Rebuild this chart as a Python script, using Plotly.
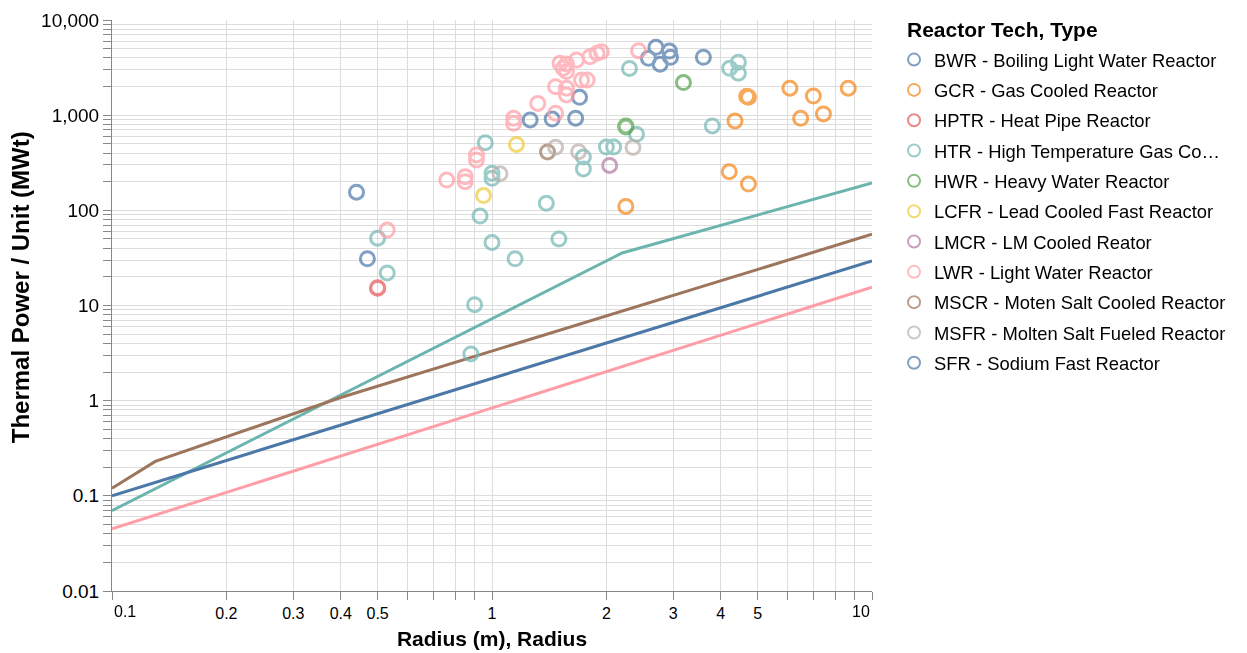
import plotly.graph_objects as go

# ---- scatter data: (radius m, thermal power MWt) per reactor type ----
bwr_r = [1.26, 1.44, 1.66, 1.70, 2.58, 2.70, 2.77, 2.93, 2.95, 3.60]
bwr_p = [890, 910, 930, 1540, 3960, 5170, 3430, 4720, 4060, 4060]

gcr_r = [2.25, 4.21, 4.73, 4.36, 4.71, 4.73, 4.68, 6.08, 6.49, 7.01, 7.45, 8.66]
gcr_p = [110, 255, 189, 870, 1560, 1540, 1580, 1920, 927, 1590, 1030, 1920]

hptr_r = [0.50, 0.50]
hptr_p = [15.4, 15.2]

htr_r = [0.50, 0.53, 0.90, 0.88, 0.93, 0.96, 1.00, 1.00, 1.00, 1.15, 1.39, 1.50,
         1.74, 1.74, 2.00, 2.09, 2.30, 2.40, 3.80, 4.22, 4.45, 4.45]
htr_p = [51, 22, 10.2, 3.1, 87, 514, 245, 217, 46, 31, 119, 50,
         364, 272, 463, 463, 3100, 630, 770, 3110, 3600, 2760]

hwr_r = [2.25, 2.25, 3.19]
hwr_p = [770, 750, 2200]

lcfr_r = [1.16, 0.95]
lcfr_p = [492, 143]

lmcr_r = [2.04]
lmcr_p = [296]

lwr_r = [0.53, 0.76, 0.85, 0.85, 0.91, 0.91, 1.14, 1.14, 1.32, 1.47, 1.47,
         1.51, 1.57, 1.54, 1.57, 1.57, 1.57, 1.67, 1.72, 1.78, 1.81, 1.89, 1.94, 2.43]
lwr_p = [62, 208, 226, 200, 382, 338, 927, 822, 1330, 1990, 1050,
         3510, 3450, 3110, 2870, 1920, 1630, 3800, 2340, 2340, 4120, 4470, 4650, 4760]

mscr_r = [1.40]
mscr_p = [411]

msfr_r = [1.05, 1.47, 1.69, 2.35]
msfr_p = [243, 461, 413, 458]

sfr_r = [0.44, 0.47]
sfr_p = [155, 31]

# ---- reference curves ----
htr_line_r = [0.1, 2.2, 10]
htr_line_p = [0.07, 35.6, 194]

mscr_line_r = [0.1, 0.13, 0.4, 10]
mscr_line_p = [0.12, 0.23, 1.08, 56]

bwr_line_r = [0.1, 10]
bwr_line_p = [0.1, 29.4]

lwr_line_r = [0.1, 10]
lwr_line_p = [0.045, 15.6]

types = [
    ("BWR - Boiling Light Water Reactor", "#4c78a8", bwr_r, bwr_p),
    ("GCR - Gas Cooled Reactor", "#f58518", gcr_r, gcr_p),
    ("HPTR - Heat Pipe Reactor", "#e45756", hptr_r, hptr_p),
    ("HTR - High Temperature Gas Co…", "#72b7b2", htr_r, htr_p),
    ("HWR - Heavy Water Reactor", "#54a24b", hwr_r, hwr_p),
    ("LCFR - Lead Cooled Fast Reactor", "#eeca3b", lcfr_r, lcfr_p),
    ("LMCR - LM Cooled Reator", "#b279a2", lmcr_r, lmcr_p),
    ("LWR - Light Water Reactor", "#ff9da6", lwr_r, lwr_p),
    ("MSCR - Moten Salt Cooled Reactor", "#9d755d", mscr_r, mscr_p),
    ("MSFR - Molten Salt Fueled Reactor", "#bab0ac", msfr_r, msfr_p),
    ("SFR - Sodium Fast Reactor", "#4c78a8", sfr_r, sfr_p),
]

curves = [
    ("#6cb5ae", htr_line_r, htr_line_p),
    ("#9d755d", mscr_line_r, mscr_line_p),
    ("#4c78a8", bwr_line_r, bwr_line_p),
    ("#ff9da6", lwr_line_r, lwr_line_p),
]

FONT = "Liberation Sans, Arial, Helvetica, sans-serif"

fig = go.Figure()

for color, xs, ys in curves:
    fig.add_trace(go.Scatter(
        x=xs, y=ys, mode="lines", showlegend=False, hoverinfo="skip",
        line=dict(color=color, width=3),
    ))

for i, (name, color, xs, ys) in enumerate(types):
    fig.add_trace(go.Scatter(
        x=xs, y=ys, mode="markers", name=name, legendgroup=f"g{i}",
        opacity=0.7,
        marker=dict(symbol="circle-open", size=14, color=color,
                    line=dict(width=3, color=color)),
    ))

# tick positions at every 1..9 multiple (grid lines everywhere);
# the end labels are drawn flush with the axis ends below
x_tickvals = [0.1, 0.2, 0.3, 0.4, 0.5, 0.6, 0.7, 0.8, 0.9,
              1, 2, 3, 4, 5, 6, 7, 8, 9, 10]
x_ticktext = ["", "0.2", "0.3", "0.4", "0.5", "", "", "", "",
              "1", "2", "3", "4", "5", "", "", "", "", ""]

y_tickvals = []
y_ticktext = []
decade_labels = {0.01: "0.01", 0.1: "0.1", 1: "1", 10: "10", 100: "100",
                 1000: "1,000", 10000: "10,000"}
for d in [0.01, 0.1, 1, 10, 100, 1000]:
    for m in range(1, 10):
        v = round(d * m, 6)
        y_tickvals.append(v)
        y_ticktext.append(decade_labels.get(v, ""))
y_tickvals.append(10000)
y_ticktext.append("10,000")

fig.update_layout(
    width=1247, height=653,
    margin=dict(l=112, r=375, t=20, b=62),
    paper_bgcolor="white", plot_bgcolor="white",
    font=dict(family=FONT, size=17, color="#000"),
    showlegend=True,
    legend=dict(
        x=1.029, y=0.963, xanchor="left", yanchor="top",
        font=dict(size=18.4, color="#000"),
        tracegroupgap=3.4,
        maxheight=620,
        itemsizing="constant",
    ),
    xaxis=dict(
        type="log", range=[-1, 1], automargin=False,
        tickvals=x_tickvals, ticktext=x_ticktext,
        showgrid=True, gridcolor="#dddddd", gridwidth=1,
        ticks="outside", ticklen=8, tickcolor="#888", tickwidth=1,
        showline=True, linecolor="#888", linewidth=1,
        zeroline=False,
        tickfont=dict(size=16, color="#000"),
        title=dict(text="<b>Radius (m), Radius</b>", font=dict(size=21), standoff=10),
    ),
    yaxis=dict(
        type="log", range=[-2, 4], automargin=False,
        tickvals=y_tickvals, ticktext=y_ticktext,
        showgrid=True, gridcolor="#dddddd", gridwidth=1,
        ticks="outside", ticklen=8, tickcolor="#888", tickwidth=1,
        showline=True, linecolor="#888", linewidth=1,
        zeroline=False,
        tickfont=dict(size=19, color="#000"),
    ),
    annotations=[
        dict(text="<b>Thermal Power / Unit (MWt)</b>", xref="paper", yref="paper",
             x=-0.121, y=0.532, xanchor="center", yanchor="middle",
             textangle=-90, showarrow=False, font=dict(size=24, color="#000")),
        dict(text="<b>Reactor Tech, Type</b>", xref="paper", yref="paper",
             x=1.044, y=1.0065, xanchor="left", yanchor="top", showarrow=False,
             font=dict(size=21, color="#000")),
        dict(text="0.1", xref="x", yref="paper", x=-1, y=0, xanchor="left",
             yanchor="top", yshift=-10, showarrow=False,
             font=dict(size=16, color="#000")),
        dict(text="10", xref="x", yref="paper", x=1, y=0, xanchor="right",
             yanchor="top", yshift=-10, showarrow=False,
             font=dict(size=16, color="#000")),
    ],
)

fig.write_html("out.html")
